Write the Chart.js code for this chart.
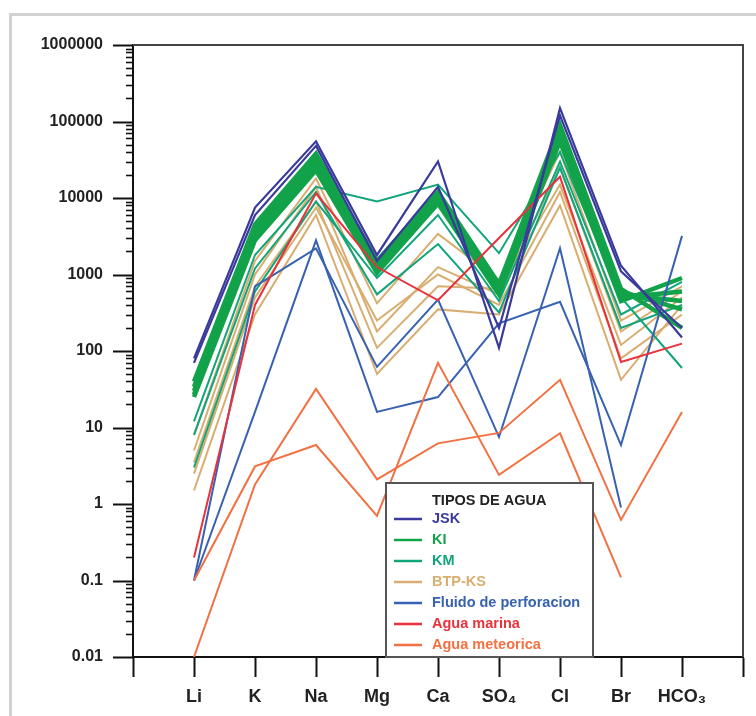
<!DOCTYPE html>
<html>
<head>
<meta charset="utf-8">
<script src="https://cdn.jsdelivr.net/npm/chart.js@4.4.1/dist/chart.umd.min.js"></script>
<style>
  body { margin: 0; background: #fff; }
  #frame { position: absolute; left: 9px; top: 13px; width: 800px; height: 800px; border: 3px solid #d2d2d2; }
  #wrap { position: absolute; left: 0; top: 0; width: 756px; height: 716px; }
</style>
</head>
<body>
<div id="frame"></div>
<div id="wrap"><canvas id="ionChart" width="756" height="716"></canvas></div>
<script>
// ions along the x axis (blank slots at both ends, like the original)
const ions = ['Li', 'K', 'Na', 'Mg', 'Ca', 'SO₄', 'Cl', 'Br', 'HCO₃'];
const yTicks = [0.01, 0.1, 1, 10, 100, 1000, 10000, 100000, 1000000];

// JSK
const jsk1 = [80, 7500, 55000, 1800, 30000, 110, 150000, 1300, 150];
const jsk2 = [70, 6000, 48000, 1500, 14000, 200, 120000, 1100, 200];
// KI
const ki1 = [40, 4500, 38000, 1500, 12000, 750, 90000, 650, 200];
const ki2 = [34, 4000, 33000, 1350, 11000, 700, 80000, 600, 350];
const ki3 = [30, 3500, 29000, 1250, 10000, 650, 70000, 550, 450];
const ki4 = [27, 3100, 26000, 1150, 9500, 600, 60000, 500, 600];
const ki5 = [25, 2800, 23000, 1050, 8500, 550, 55000, 450, 900];
// KM
const km1 = [12, 1800, 14000, 9000, 15000, 1900, 40000, 500, 60];
const km2 = [8, 1200, 12000, 550, 2500, 320, 25000, 200, 400];
const km3 = [3, 600, 9000, 900, 6000, 450, 30000, 300, 800];
// BTP-KS
const btp1 = [8, 1500, 18000, 420, 3400, 850, 40000, 250, 700];
const btp2 = [5, 1000, 14000, 180, 1250, 550, 25000, 180, 600];
const btp3 = [3.5, 700, 9000, 110, 700, 650, 15000, 120, 500];
const btp4 = [1.5, 300, 6000, 50, 350, 300, 8000, 42, 400];
const btp5 = [2.5, 500, 7500, 250, 1000, 400, 12000, 80, 300];
// Fluido de perforacion
const flu1 = [0.1, 700, 2200, 62, 470, 7.5, 2200, 0.9, null];
const flu2 = [0.1, 16, 2800, 16, 25, 230, 440, 5.9, 3200];
// Agua marina
const mar1 = [0.2, 400, 11500, 1250, 460, 3000, 19000, 72, 125];
// Agua meteorica
const met1 = [0.01, 1.8, 32, 2.1, 6.2, 8.5, 42, 0.62, 16];
const met2 = [0.1, 3.1, 5.9, 0.7, 70, 2.4, 8.4, 0.11, null];

const groups = [
    { name: 'JSK', color: '#3a3a9c', width: 2.2, lines: [jsk1, jsk2] },
    { name: 'KI', color: '#12a24a', width: 4.5, lines: [ki1, ki2, ki3, ki4, ki5] },
    { name: 'KM', color: '#10a57a', width: 2, lines: [km1, km2, km3] },
    { name: 'BTP-KS', color: '#d9ad70', width: 2, lines: [btp1, btp2, btp3, btp4, btp5] },
    { name: 'Fluido de perforacion', color: '#3762b2', width: 2, lines: [flu1, flu2] },
    { name: 'Agua marina', color: '#e8323c', width: 2, lines: [mar1] },
    { name: 'Agua meteorica', color: '#f27142', width: 2, lines: [met1, met2] }
];

const FONT = 'Liberation Sans, Arial, sans-serif';
const labels = [''].concat(ions, ['']);

// draw order: first dataset ends up on top
const drawOrder = ['JSK', 'Agua marina', 'Agua meteorica', 'Fluido de perforacion', 'KI', 'KM', 'BTP-KS'];
const datasets = [];
drawOrder.forEach(function(n) {
    const g = groups.find(x => x.name === n);
    g.lines.forEach(function(vals) {
        datasets.push({
            label: g.name,
            data: [null].concat(vals, [null]),
            borderColor: g.color,
            borderWidth: g.width,
            pointRadius: 0,
            tension: 0,
            fill: false,
            borderJoinStyle: 'miter'
        });
    });
});

// minor/major ticks on the log axis, plot frame and the inside legend
const extras = {
    id: 'extras',
    afterDraw(chart) {
        const c = chart.ctx;
        const a = chart.chartArea;
        const y = chart.scales.y;
        const x = chart.scales.x;
        c.save();
        // top / right frame
        c.strokeStyle = '#444';
        c.lineWidth = 2;
        c.beginPath();
        c.moveTo(a.left, a.top);
        c.lineTo(a.right, a.top);
        c.lineTo(a.right, a.bottom);
        c.stroke();
        // y ticks
        c.strokeStyle = '#111';
        for (let e = -2; e <= 6; e++) {
            for (let k = 1; k <= 9; k++) {
                const v = k * Math.pow(10, e);
                if (v > 1000000 * 1.0001) break;
                const py = Math.round(y.getPixelForValue(v)) + 0.5;
                const len = k === 1 ? 20 : 7;
                c.lineWidth = k === 1 ? 2 : 1.6;
                c.beginPath();
                c.moveTo(a.left - len, py);
                c.lineTo(a.left, py);
                c.stroke();
            }
        }
        // legend box
        const bx = x.getPixelForValue(4) + 9;
        const br = x.getPixelForValue(7) + 33;
        const bb = a.bottom;
        const bt = bb - 174;
        c.fillStyle = '#fff';
        c.fillRect(bx, bt, br - bx, bb - bt);
        c.strokeStyle = '#555';
        c.lineWidth = 2;
        c.strokeRect(bx, bt, br - bx, bb - bt);
        c.textBaseline = 'middle';
        c.fillStyle = '#222';
        c.font = 'bold 14.5px ' + FONT;
        c.fillText('TIPOS DE AGUA', bx + 46, bt + 18);
        groups.forEach(function(g, i) {
            const ty = bt + 36 + i * 21;
            c.strokeStyle = g.color;
            c.lineWidth = 2.5;
            c.beginPath();
            c.moveTo(bx + 8, ty);
            c.lineTo(bx + 36, ty);
            c.stroke();
            c.fillStyle = g.color;
            c.font = 'bold 14.5px ' + FONT;
            c.fillText(g.name, bx + 46, ty);
        });
        c.restore();
    }
};

const ctx = document.getElementById('ionChart').getContext('2d');
const ionChart = new Chart(ctx, {
    type: 'line',
    data: { labels: labels, datasets: datasets },
    options: {
        responsive: false,
        animation: false,
        layout: { padding: { top: 45, right: 13, left: 0, bottom: 0 } },
        plugins: { legend: { display: false }, tooltip: { enabled: false } },
        scales: {
            x: {
                type: 'category',
                offset: false,
                afterFit: function(s) { s.height = 59; },
                border: { color: '#111', width: 2 },
                grid: { drawOnChartArea: false, drawTicks: true, tickLength: 20, tickWidth: 2, tickColor: '#111' },
                ticks: { autoSkip: false, maxRotation: 0, padding: 9, color: '#222', font: { family: FONT, size: 18, weight: 'bold' } }
            },
            y: {
                type: 'logarithmic',
                min: yTicks[0],
                max: yTicks[yTicks.length - 1],
                afterFit: function(s) { s.width = 133; },
                border: { color: '#111', width: 2 },
                grid: { drawOnChartArea: false, drawTicks: false },
                ticks: {
                    autoSkip: false,
                    padding: 30,
                    color: '#222',
                    font: { family: FONT, size: 16, weight: 'bold' },
                    callback: function(v) {
                        const hit = yTicks.find(t => Math.abs(t - v) < t * 1e-6);
                        return hit === undefined ? '' : String(hit);
                    }
                }
            }
        }
    },
    plugins: [extras]
});
</script>
</body>
</html>
